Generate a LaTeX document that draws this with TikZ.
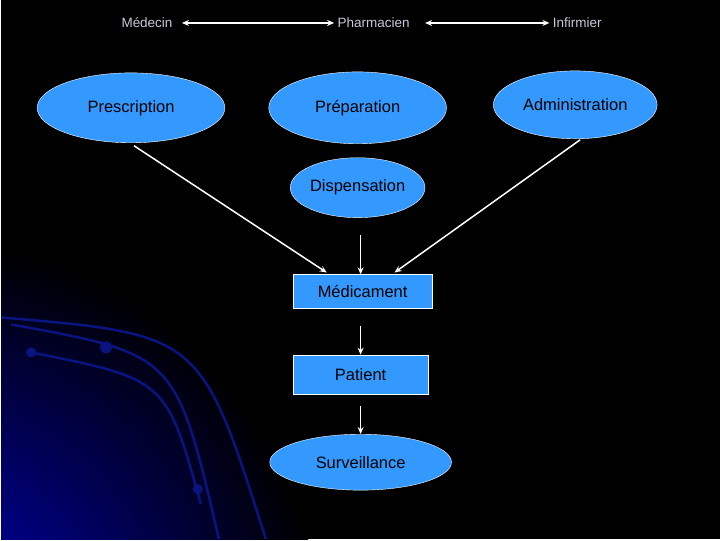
\documentclass[tikz,border=0pt]{standalone}
\usepackage{fontspec}
\setmainfont{Liberation Sans}
\usetikzlibrary{arrows.meta,shapes.geometric}
\definecolor{skyblue}{HTML}{3399FF}
\definecolor{navy}{HTML}{0000C0}
\definecolor{arcblue}{HTML}{0A1480}
\definecolor{toptext}{HTML}{C8C8D8}

\begin{document}
\begin{tikzpicture}[x=1pt, y=-1pt,
  ebox/.style={ellipse, draw=white, fill=skyblue, inner sep=0pt, font=\fontsize{16.5}{19}\selectfont},
  rbox/.style={rectangle, draw=white, fill=skyblue, inner sep=0pt, font=\fontsize{16.5}{19}\selectfont},
  role/.style={text=toptext, font=\fontsize{13.5}{16}\selectfont},
  arr/.style={white, line width=1.5pt, -{Stealth[length=7pt,width=6pt]}},
  darr/.style={white, line width=1.5pt, {Stealth[length=7pt,width=6pt]}-{Stealth[length=7pt,width=6pt]}},
  orbit/.style={arcblue, line width=2.5pt},
  ]

% background
\fill[black] (0,0) rectangle (720,540);
\begin{scope}
  \clip (0,0) rectangle (720,540);
  \shade[inner color=navy, outer color=black] (-80,640) circle (400);
\end{scope}
\draw[orbit] (0,318) .. controls (200,335) .. (265,540);
\draw[orbit] (10,325) .. controls (175,355) .. (218,540);
\draw[orbit] (30,353) .. controls (165,380) .. (200,505);
\fill[arcblue] (105,348) circle (6);
\fill[arcblue] (30,353) circle (5);
\fill[arcblue] (197,490) circle (5);

% roles
\node[role] (med) at (146,23) {Médecin};
\node[role] (pha) at (373,23) {Pharmacien};
\node[role] (inf) at (577,23) {Infirmier};

% nodes
\node[ebox, minimum width=188, minimum height=70] (pres) at (130,108) {Prescription};
\node[ebox, minimum width=178, minimum height=72] (prep) at (357,108) {Préparation};
\node[ebox, minimum width=164, minimum height=68] (adm) at (575,105) {Administration};
\node[ebox, minimum width=104, minimum height=60] (disp) at (357,188) {Dispensation};
\node[rbox, minimum width=140, minimum height=34] (medic) at (362,292) {Médicament};
\node[rbox, minimum width=136, minimum height=39] (pat) at (360,375) {Patient};
\node[ebox, minimum width=182, minimum height=56] (surv) at (360,463) {Surveillance};

% connectors
\draw[darr] (med.east) ++(6,0) coordinate (m1) -- (m1 -| pha.west);
\draw[darr] (pha.east) ++(12,0) coordinate (p1) -- (p1 -| inf.west);
\draw[arr] (133,146) coordinate (c1) -- (326,273) coordinate (c2);
\draw[arr] (580,140) coordinate (c3) -- (394,273) coordinate (c4);
\draw[arr] (disp.south) ++(3,17) coordinate (d1) -- (d1 |- medic.north);
\draw[arr] (medic.south) ++(-2,17) coordinate (d2) -- (d2 |- pat.north);
\draw[arr] (pat.south) ++(0,12) coordinate (d3) -- (d3 |- surv.north);
\end{tikzpicture}
\end{document}
